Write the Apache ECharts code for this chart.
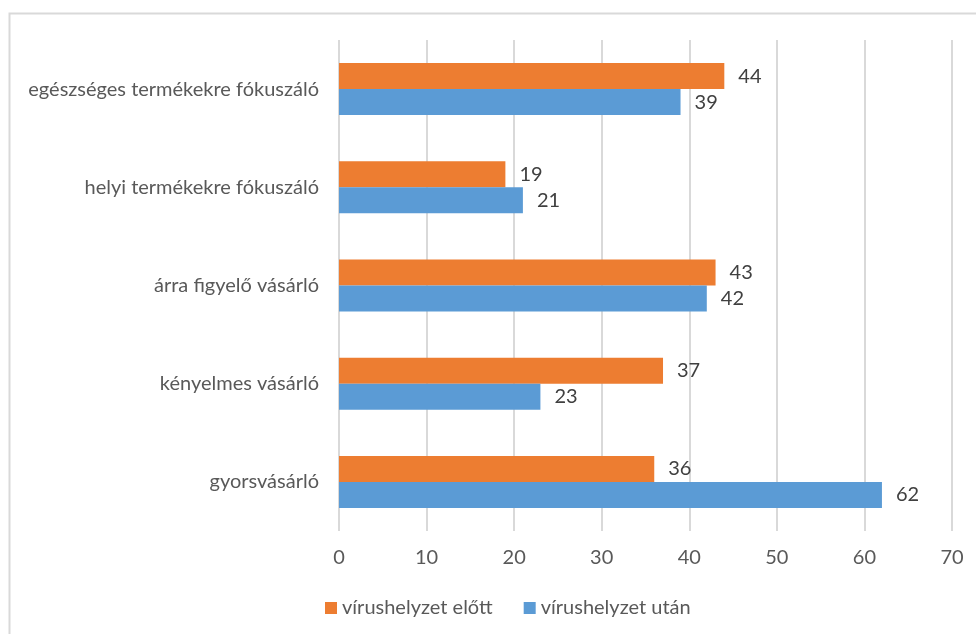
<!DOCTYPE html>
<html>
<head>
<meta charset="utf-8">
<script src="https://cdn.jsdelivr.net/npm/echarts@6/dist/echarts.min.js"></script>
<style>
  html, body { margin: 0; padding: 0; background: #fff; }
  #chart { width: 976px; height: 634px; }
</style>
</head>
<body>
<div id="chart"></div>
<script>
// kategóriák alulról felfelé
const categories = ['gyorsvásárló', 'kényelmes vásárló', 'árra figyelő vásárló', 'helyi termékekre fókuszáló', 'egészséges termékekre fókuszáló'];
const elott = [36, 37, 43, 19, 44];
const utan = [62, 23, 42, 21, 39];
const xTicks = [0, 10, 20, 30, 40, 50, 60, 70];

const font = 'Lato, "Open Sans", sans-serif';

const chart = echarts.init(document.getElementById('chart'), null, { renderer: 'canvas' });

function barLabel() {
  return {
    show: true,
    position: 'right',
    distance: 14,
    color: '#404040',
    fontSize: 20,
    fontFamily: font
  };
}

chart.setOption({
  animation: false,
  graphic: [{
    type: 'rect',
    shape: { x: 9.5, y: 13.5, width: 1000, height: 700 },
    style: { fill: 'none', stroke: '#d9d9d9', lineWidth: 2 },
    silent: true
  }],
  legend: {
    data: ['vírushelyzet előtt', 'vírushelyzet után'],
    bottom: 11,
    left: 320,
    itemWidth: 12,
    itemHeight: 12,
    itemGap: 31,
    icon: 'rect',
    textStyle: { color: '#595959', fontSize: 20, fontFamily: font }
  },
  grid: { left: 339, right: 24, top: 40, bottom: 103 },
  xAxis: {
    type: 'value',
    min: xTicks[0],
    max: xTicks[xTicks.length - 1],
    interval: 10,
    axisLine: { show: false },
    axisTick: { show: false },
    axisLabel: { color: '#595959', fontSize: 20, fontFamily: font, margin: 17 },
    splitLine: { lineStyle: { color: '#d9d9d9', width: 2 } }
  },
  yAxis: {
    type: 'category',
    data: categories,
    axisLine: { show: false },
    axisTick: { show: false },
    axisLabel: { color: '#595959', fontSize: 20, fontFamily: font, margin: 20 }
  },
  series: [
    {
      name: 'vírushelyzet előtt',
      type: 'bar',
      data: elott,
      itemStyle: { color: '#ed7d31' },
      barGap: '0%',
      barCategoryGap: '47%',
      label: barLabel()
    },
    {
      name: 'vírushelyzet után',
      type: 'bar',
      data: utan,
      itemStyle: { color: '#5b9bd5' },
      barGap: '0%',
      barCategoryGap: '47%',
      label: barLabel()
    }
  ]
});
</script>
</body>
</html>
